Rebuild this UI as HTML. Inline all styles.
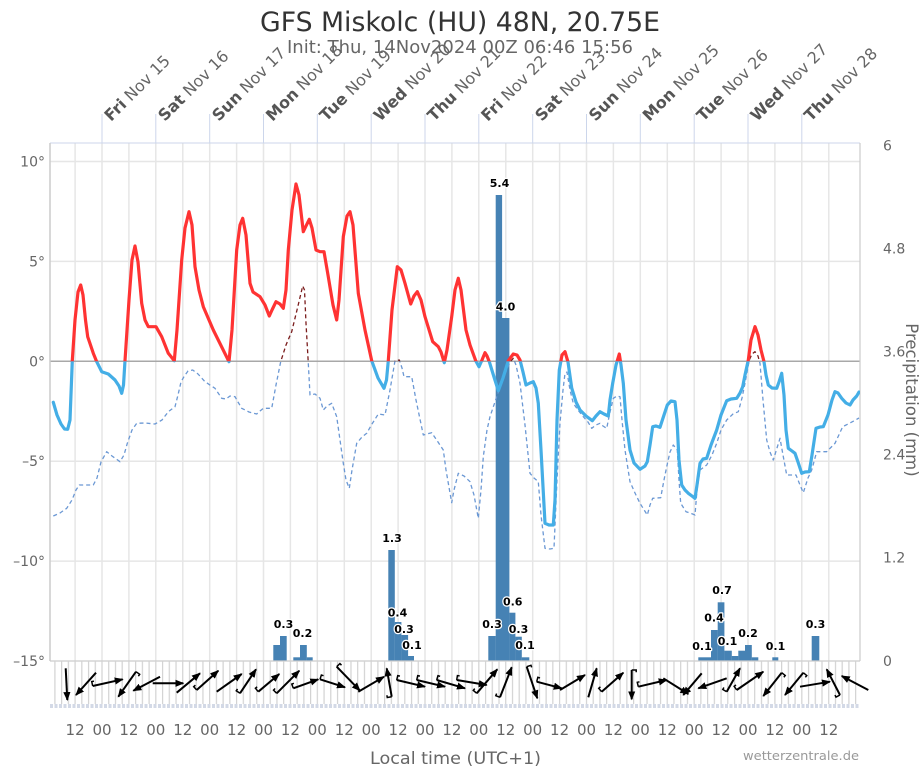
<!DOCTYPE html>
<html><head><meta charset="utf-8">
<style>
html,body{margin:0;padding:0;background:#fff;}
svg{display:block;font-family:"DejaVu Sans","Liberation Sans",sans-serif;}
</style></head>
<body>
<svg width="921" height="768" viewBox="0 0 921 768" xmlns="http://www.w3.org/2000/svg">
<defs>
<clipPath id="above"><rect x="50" y="0" width="810" height="361.3"/></clipPath>
<clipPath id="below"><rect x="50" y="361.3" width="810" height="300"/></clipPath>
<pattern id="p3h" x="54.3" y="661" width="6.729" height="44" patternUnits="userSpaceOnUse"><rect x="0" y="0" width="1.2" height="44" fill="#d2d2d2"/></pattern>
<marker id="ah" markerUnits="userSpaceOnUse" markerWidth="10" markerHeight="10" refX="8" refY="0" viewBox="0 -5 10 10" orient="auto"><path d="M0,-3.6 L9,0 L0,3.6 z" fill="#000"/></marker>
<marker id="bb" markerUnits="userSpaceOnUse" markerWidth="12" markerHeight="12" refX="0" refY="0" viewBox="-6 -8 12 16" orient="auto"><path d="M0,0 L0,-6 L3,-6" fill="none" stroke="#000" stroke-width="2"/></marker>
</defs>

<!-- Title -->
<text x="460" y="31" text-anchor="middle" font-size="26.5" fill="#333" textLength="400" lengthAdjust="spacingAndGlyphs">GFS Miskolc (HU) 48N, 20.75E</text>
<text x="460" y="53" text-anchor="middle" font-size="17.5" fill="#666" textLength="346" lengthAdjust="spacingAndGlyphs">Init: Thu, 14Nov2024 00Z 06:46 15:56</text>

<!-- horizontal grid -->
<g stroke="#e6e6e6" stroke-width="1.5">
<line x1="50" y1="161.5" x2="860" y2="161.5"/>
<line x1="50" y1="261.4" x2="860" y2="261.4"/>
<line x1="50" y1="461.2" x2="860" y2="461.2"/>
<line x1="50" y1="561.1" x2="860" y2="561.1"/>
</g>
<!-- vertical 12h grid -->
<g stroke="#e6e6e6" stroke-width="1.5">
<line x1="75.1" y1="143" x2="75.1" y2="661"/><line x1="102" y1="143" x2="102" y2="661"/><line x1="128.9" y1="143" x2="128.9" y2="661"/><line x1="155.8" y1="143" x2="155.8" y2="661"/><line x1="182.8" y1="143" x2="182.8" y2="661"/><line x1="209.7" y1="143" x2="209.7" y2="661"/><line x1="236.6" y1="143" x2="236.6" y2="661"/><line x1="263.5" y1="143" x2="263.5" y2="661"/><line x1="290.4" y1="143" x2="290.4" y2="661"/><line x1="317.3" y1="143" x2="317.3" y2="661"/><line x1="344.3" y1="143" x2="344.3" y2="661"/><line x1="371.2" y1="143" x2="371.2" y2="661"/><line x1="398.1" y1="143" x2="398.1" y2="661"/><line x1="425" y1="143" x2="425" y2="661"/><line x1="451.9" y1="143" x2="451.9" y2="661"/><line x1="478.8" y1="143" x2="478.8" y2="661"/><line x1="505.8" y1="143" x2="505.8" y2="661"/><line x1="532.7" y1="143" x2="532.7" y2="661"/><line x1="559.6" y1="143" x2="559.6" y2="661"/><line x1="586.5" y1="143" x2="586.5" y2="661"/><line x1="613.4" y1="143" x2="613.4" y2="661"/><line x1="640.3" y1="143" x2="640.3" y2="661"/><line x1="667.3" y1="143" x2="667.3" y2="661"/><line x1="694.2" y1="143" x2="694.2" y2="661"/><line x1="721.1" y1="143" x2="721.1" y2="661"/><line x1="748" y1="143" x2="748" y2="661"/><line x1="774.9" y1="143" x2="774.9" y2="661"/><line x1="801.8" y1="143" x2="801.8" y2="661"/><line x1="828.8" y1="143" x2="828.8" y2="661"/>
</g>
<!-- zero line -->
<line x1="50" y1="361.3" x2="860" y2="361.3" stroke="#a8a8a8" stroke-width="1.5"/>

<!-- plot borders -->
<line x1="50" y1="143" x2="860" y2="143" stroke="#ccd6eb" stroke-width="1"/>
<line x1="50" y1="143" x2="50" y2="661" stroke="#cccccc" stroke-width="1.5"/>
<line x1="860" y1="143" x2="860" y2="661" stroke="#cccccc" stroke-width="1.2"/>

<!-- day ticks -->
<g stroke="#ccd6eb" stroke-width="1">
<line x1="102" y1="114" x2="102" y2="143"/><line x1="155.8" y1="114" x2="155.8" y2="143"/><line x1="209.7" y1="114" x2="209.7" y2="143"/><line x1="263.5" y1="114" x2="263.5" y2="143"/><line x1="317.3" y1="114" x2="317.3" y2="143"/><line x1="371.2" y1="114" x2="371.2" y2="143"/><line x1="425" y1="114" x2="425" y2="143"/><line x1="478.8" y1="114" x2="478.8" y2="143"/><line x1="532.7" y1="114" x2="532.7" y2="143"/><line x1="586.5" y1="114" x2="586.5" y2="143"/><line x1="640.3" y1="114" x2="640.3" y2="143"/><line x1="694.2" y1="114" x2="694.2" y2="143"/><line x1="748" y1="114" x2="748" y2="143"/><line x1="801.8" y1="114" x2="801.8" y2="143"/>
</g>
<!-- day labels -->
<g font-size="16" fill="#666">
<text transform="translate(111,122) rotate(-45)"><tspan font-weight="bold" fill="#555">Fri</tspan> Nov 15</text>
<text transform="translate(164.8,122) rotate(-45)"><tspan font-weight="bold" fill="#555">Sat</tspan> Nov 16</text>
<text transform="translate(218.7,122) rotate(-45)"><tspan font-weight="bold" fill="#555">Sun</tspan> Nov 17</text>
<text transform="translate(272.5,122) rotate(-45)"><tspan font-weight="bold" fill="#555">Mon</tspan> Nov 18</text>
<text transform="translate(326.3,122) rotate(-45)"><tspan font-weight="bold" fill="#555">Tue</tspan> Nov 19</text>
<text transform="translate(380.2,122) rotate(-45)"><tspan font-weight="bold" fill="#555">Wed</tspan> Nov 20</text>
<text transform="translate(434,122) rotate(-45)"><tspan font-weight="bold" fill="#555">Thu</tspan> Nov 21</text>
<text transform="translate(487.8,122) rotate(-45)"><tspan font-weight="bold" fill="#555">Fri</tspan> Nov 22</text>
<text transform="translate(541.7,122) rotate(-45)"><tspan font-weight="bold" fill="#555">Sat</tspan> Nov 23</text>
<text transform="translate(595.5,122) rotate(-45)"><tspan font-weight="bold" fill="#555">Sun</tspan> Nov 24</text>
<text transform="translate(649.3,122) rotate(-45)"><tspan font-weight="bold" fill="#555">Mon</tspan> Nov 25</text>
<text transform="translate(703.2,122) rotate(-45)"><tspan font-weight="bold" fill="#555">Tue</tspan> Nov 26</text>
<text transform="translate(757,122) rotate(-45)"><tspan font-weight="bold" fill="#555">Wed</tspan> Nov 27</text>
<text transform="translate(810.8,122) rotate(-45)"><tspan font-weight="bold" fill="#555">Thu</tspan> Nov 28</text>
</g>

<!-- left axis labels -->
<g font-size="14" fill="#666" text-anchor="end">
<text x="45" y="166.5">10°</text>
<text x="45" y="266.4">5°</text>
<text x="45" y="366.3">0°</text>
<text x="45" y="466.2">–5°</text>
<text x="45" y="566.1">–10°</text>
<text x="45" y="666">–15°</text>
</g>
<!-- right axis labels -->
<g font-size="14" fill="#666">
<text x="883" y="150.5">6</text>
<text x="883" y="253.5">4.8</text>
<text x="883" y="356.5">3.6</text>
<text x="883" y="459.5">2.4</text>
<text x="883" y="562.5">1.2</text>
<text x="883" y="666">0</text>
</g>
<text transform="translate(906,400) rotate(90)" text-anchor="middle" font-size="16.5" fill="#666">Precipitation (mm)</text>

<!-- precipitation bars -->
<g fill="#4682b4">
<rect x="273.3" y="645" width="6.8" height="16"/>
<rect x="280" y="636" width="6.7" height="25"/>
<rect x="293.3" y="657.3" width="6.8" height="3.7"/>
<rect x="300" y="645" width="6.8" height="16"/>
<rect x="306.7" y="657.3" width="6" height="3.7"/>
<rect x="388.3" y="550" width="6.5" height="111"/>
<rect x="394.7" y="622" width="6.7" height="39"/>
<rect x="401.3" y="635" width="6.8" height="26"/>
<rect x="408" y="656" width="6" height="5"/>
<rect x="488.3" y="636" width="7.5" height="25"/>
<rect x="495.7" y="195" width="6.4" height="466"/>
<rect x="502" y="318" width="7.4" height="343"/>
<rect x="509.3" y="612.7" width="6.1" height="48.3"/>
<rect x="515.3" y="636.7" width="6.5" height="24.3"/>
<rect x="521.7" y="657.3" width="7.6" height="3.7"/>
<rect x="698.3" y="657.3" width="12.8" height="3.7"/>
<rect x="711" y="630" width="6.8" height="31"/>
<rect x="717.7" y="602.3" width="6.7" height="58.7"/>
<rect x="724.3" y="650.7" width="7.5" height="10.3"/>
<rect x="731.7" y="656" width="6.7" height="5"/>
<rect x="738.3" y="650.7" width="6.8" height="10.3"/>
<rect x="745" y="645" width="6.8" height="16"/>
<rect x="751.7" y="657.3" width="6.6" height="3.7"/>
<rect x="772.3" y="657.3" width="6" height="3.7"/>
<rect x="811.7" y="636" width="7.6" height="25"/>
</g>

<!-- dashed dewpoint line -->
<g fill="none" stroke-width="1.3" stroke-dasharray="4,3" stroke-linejoin="round">
<polyline id="dew" clip-path="url(#below)" stroke="#6b98d4" points="53.3,516 60,513 66.7,508.3 72,500 76,490 79.3,485 86,485 93.3,485 97,478 101,462 106.7,451.7 112,456 120,461.7 124,455 127.3,443.3 132,430 136.7,423.3 145,423 155,424 162,420 168.3,411.7 175,406.7 178,395 181,382 184,376.7 188,371 192.7,370 198,374 205,381.7 215,388.3 221.7,398.3 226,399 230,396 235,396.7 238,402 241.7,408.3 249,412 256.7,414 260,411 263.3,408.3 271.7,408.3 276,385 280.7,361.7 286,345 291.7,331.7 297,310 302.7,286 304.5,290 306,323.3 308.3,363.3 310,395 315,394 320,398.3 323.3,410 327,406 331.7,403.3 336.7,416.7 340,440 343.3,463.3 346,480 349.3,488.3 352,470 356.7,443.3 362,437 366.7,433.3 372,424 378.3,414 385,415 387,405 390,390 395,360.7 399.3,360 402,368 404,376.7 411.7,376.7 416,400 423.3,435 431.7,432.7 438,442 443.3,450 446,470 451.7,502.7 454,490 458.3,473.3 464,476 470,481.7 474,495 478.3,518.3 481,490 483.3,456.7 487,430 490,416.7 497.3,395 502,382 506.7,370 510,362 513.3,358.3 516,365 520,383.3 525,425 530,473.3 534,478 538.3,481.7 541,515 545,548.3 550,549 554,548.3 557,480 560,423 563,390 565,373.3 567,372 570,390 573.3,403.3 578,410 583.3,416.7 588,422 591.7,428.3 596,425 600,423.3 603,426 606.7,428.3 610,412 613.3,398.3 617,396 620,396.7 622,420 625,450 630,481.7 635,493 640,503.3 647.3,515 650,505 652.7,498.3 660.7,497.7 664,480 666.7,466.7 670,452 673.3,445 677.3,450 679,480 680.7,503.3 686,511.7 690,513 695,515 697,490 700,470 706.7,465 712,455 716.7,443.3 721,430 726.7,420 733,414 738.3,411.7 742,398 745,383.3 749.3,360 752,354 755,351.7 758,356 760,363.3 763,400 766.7,440 770,452 773.3,460 777,448 780,438.3 783,455 786.7,475 796,475 800,485 803.3,492.7 808,478 811.7,470 816.7,451.7 826.7,451.7 835,443.3 842.7,426.7 850,423 856.7,419.3 859,418"/>
<polyline clip-path="url(#above)" stroke="#7a1c1c" points="53.3,516 60,513 66.7,508.3 72,500 76,490 79.3,485 86,485 93.3,485 97,478 101,462 106.7,451.7 112,456 120,461.7 124,455 127.3,443.3 132,430 136.7,423.3 145,423 155,424 162,420 168.3,411.7 175,406.7 178,395 181,382 184,376.7 188,371 192.7,370 198,374 205,381.7 215,388.3 221.7,398.3 226,399 230,396 235,396.7 238,402 241.7,408.3 249,412 256.7,414 260,411 263.3,408.3 271.7,408.3 276,385 280.7,361.7 286,345 291.7,331.7 297,310 302.7,286 304.5,290 306,323.3 308.3,363.3 310,395 315,394 320,398.3 323.3,410 327,406 331.7,403.3 336.7,416.7 340,440 343.3,463.3 346,480 349.3,488.3 352,470 356.7,443.3 362,437 366.7,433.3 372,424 378.3,414 385,415 387,405 390,390 395,360.7 399.3,360 402,368 404,376.7 411.7,376.7 416,400 423.3,435 431.7,432.7 438,442 443.3,450 446,470 451.7,502.7 454,490 458.3,473.3 464,476 470,481.7 474,495 478.3,518.3 481,490 483.3,456.7 487,430 490,416.7 497.3,395 502,382 506.7,370 510,362 513.3,358.3 516,365 520,383.3 525,425 530,473.3 534,478 538.3,481.7 541,515 545,548.3 550,549 554,548.3 557,480 560,423 563,390 565,373.3 567,372 570,390 573.3,403.3 578,410 583.3,416.7 588,422 591.7,428.3 596,425 600,423.3 603,426 606.7,428.3 610,412 613.3,398.3 617,396 620,396.7 622,420 625,450 630,481.7 635,493 640,503.3 647.3,515 650,505 652.7,498.3 660.7,497.7 664,480 666.7,466.7 670,452 673.3,445 677.3,450 679,480 680.7,503.3 686,511.7 690,513 695,515 697,490 700,470 706.7,465 712,455 716.7,443.3 721,430 726.7,420 733,414 738.3,411.7 742,398 745,383.3 749.3,360 752,354 755,351.7 758,356 760,363.3 763,400 766.7,440 770,452 773.3,460 777,448 780,438.3 783,455 786.7,475 796,475 800,485 803.3,492.7 808,478 811.7,470 816.7,451.7 826.7,451.7 835,443.3 842.7,426.7 850,423 856.7,419.3 859,418"/>
</g>

<!-- temperature line -->
<g fill="none" stroke-width="3.2" stroke-linejoin="round" stroke-linecap="round">
<polyline clip-path="url(#below)" stroke="#44aee6" points="53.3,402.3 57,415 61,424 64.5,429 67.7,429.3 70,420 72.3,360.7 75,320 78,292 80.7,285 83,295 85.5,320 87.7,336.7 93.3,353.3 96.7,361.7 101.7,371.7 108.3,374 115,380 119,386 121.7,393.3 123.5,385 125,360.7 129,300 132,260 135,246 138,262 141.7,303.3 145,320 148.3,326.7 156,326.7 161.7,336.7 168.3,353.3 174.3,360.7 177,330 181.7,260 185,228 189,211.7 192,225 195,266.7 199,290 203.3,306.7 213.3,330 229,361.7 232,330 236.7,250 240,225 242.7,218.3 246,235 250,283.3 253,292 260,296.7 265,305 269.3,316 272,310 276,301.7 280,304 283.3,308.3 286,290 288.3,250 292,210 296,184 299,195 303.3,231.7 306,226 309.3,219.3 312,228 316,250 320,251.7 324,251.7 328,275 333,305 336.7,320 339,300 343.3,236.7 347,216 350,211.7 353,225 358.3,293.3 365,330 371.7,360.7 378,378 384,388.3 386.5,380 388.3,360.7 392,310 397.3,266.7 401,270 405,283.3 410.7,304 414,296 417.3,291.7 421,300 425,316.7 432.7,341.7 438.3,346.7 441,352 444.3,362.7 447,350 451.7,316.7 455,290 458.3,278.3 461,290 466,330 470,345 475.7,360.7 479,366.7 482,360 485,352.7 487,356 489.3,361.7 494,377 498.3,390.7 503,378 508.3,360.7 513.3,354 517,355 520,360 523,372 526,385 530,383 533.3,381.7 536,388 538.3,403.3 541,450 545,523.3 549,525 553.3,525 555,500 557,420 559.3,370 562,355 565,351.7 568,362 571.7,388 576,402 580,410 586,416 592.3,420.7 596,416 600,411.7 604,414 608.3,416 610,400 612.7,383.3 616,365 619.3,354 621,365 623.3,383.3 626,420 630,450 634,463 640,469.3 645,466 647.3,461.7 650,445 652.7,426.7 656,426 660,427.3 664,415 667.3,405 671,401 675,401.7 677,420 679,460 681.7,485 685,490 688.3,493.3 692,496 695,498.3 697,485 700,463.3 703,459 706.7,458.3 711,445 716.7,430 721,415 726.7,400.7 731,399 736.7,398.3 740,393 742.7,386.7 745,375 748.3,360 751,340 755,326.7 758,335 761,350 764,361.7 766,375 768.3,385 772,388 776.7,388.3 779,382 781.7,373.3 784,395 786,430 788.3,448.3 792,451 795,453.3 798,462 801.7,473.3 805,472 809.3,471.7 812,455 816,428.3 820,427 823.3,426.7 828,415 832,400 835,391.7 838,393 841.7,398.3 846,403 850,405 853,400 856.7,396 859,392"/>
<polyline clip-path="url(#above)" stroke="#ff3333" points="53.3,402.3 57,415 61,424 64.5,429 67.7,429.3 70,420 72.3,360.7 75,320 78,292 80.7,285 83,295 85.5,320 87.7,336.7 93.3,353.3 96.7,361.7 101.7,371.7 108.3,374 115,380 119,386 121.7,393.3 123.5,385 125,360.7 129,300 132,260 135,246 138,262 141.7,303.3 145,320 148.3,326.7 156,326.7 161.7,336.7 168.3,353.3 174.3,360.7 177,330 181.7,260 185,228 189,211.7 192,225 195,266.7 199,290 203.3,306.7 213.3,330 229,361.7 232,330 236.7,250 240,225 242.7,218.3 246,235 250,283.3 253,292 260,296.7 265,305 269.3,316 272,310 276,301.7 280,304 283.3,308.3 286,290 288.3,250 292,210 296,184 299,195 303.3,231.7 306,226 309.3,219.3 312,228 316,250 320,251.7 324,251.7 328,275 333,305 336.7,320 339,300 343.3,236.7 347,216 350,211.7 353,225 358.3,293.3 365,330 371.7,360.7 378,378 384,388.3 386.5,380 388.3,360.7 392,310 397.3,266.7 401,270 405,283.3 410.7,304 414,296 417.3,291.7 421,300 425,316.7 432.7,341.7 438.3,346.7 441,352 444.3,362.7 447,350 451.7,316.7 455,290 458.3,278.3 461,290 466,330 470,345 475.7,360.7 479,366.7 482,360 485,352.7 487,356 489.3,361.7 494,377 498.3,390.7 503,378 508.3,360.7 513.3,354 517,355 520,360 523,372 526,385 530,383 533.3,381.7 536,388 538.3,403.3 541,450 545,523.3 549,525 553.3,525 555,500 557,420 559.3,370 562,355 565,351.7 568,362 571.7,388 576,402 580,410 586,416 592.3,420.7 596,416 600,411.7 604,414 608.3,416 610,400 612.7,383.3 616,365 619.3,354 621,365 623.3,383.3 626,420 630,450 634,463 640,469.3 645,466 647.3,461.7 650,445 652.7,426.7 656,426 660,427.3 664,415 667.3,405 671,401 675,401.7 677,420 679,460 681.7,485 685,490 688.3,493.3 692,496 695,498.3 697,485 700,463.3 703,459 706.7,458.3 711,445 716.7,430 721,415 726.7,400.7 731,399 736.7,398.3 740,393 742.7,386.7 745,375 748.3,360 751,340 755,326.7 758,335 761,350 764,361.7 766,375 768.3,385 772,388 776.7,388.3 779,382 781.7,373.3 784,395 786,430 788.3,448.3 792,451 795,453.3 798,462 801.7,473.3 805,472 809.3,471.7 812,455 816,428.3 820,427 823.3,426.7 828,415 832,400 835,391.7 838,393 841.7,398.3 846,403 850,405 853,400 856.7,396 859,392"/>
</g>

<!-- bar labels -->
<g font-size="11" font-weight="bold" fill="#000" stroke="#fff" stroke-width="2.5" paint-order="stroke" text-anchor="middle" stroke-linejoin="round">
<text x="283.5" y="628">0.3</text>
<text x="302.5" y="637">0.2</text>
<text x="392" y="542">1.3</text>
<text x="397.5" y="616.5">0.4</text>
<text x="404" y="633">0.3</text>
<text x="412" y="649">0.1</text>
<text x="499.5" y="187">5.4</text>
<text x="505.5" y="310.5">4.0</text>
<text x="492" y="628">0.3</text>
<text x="512.7" y="605.5">0.6</text>
<text x="518.5" y="633">0.3</text>
<text x="525" y="649">0.1</text>
<text x="722" y="594">0.7</text>
<text x="714" y="621.5">0.4</text>
<text x="702" y="650">0.1</text>
<text x="727.5" y="645">0.1</text>
<text x="748" y="637">0.2</text>
<text x="775.5" y="650">0.1</text>
<text x="815.5" y="628">0.3</text>
</g>

<!-- wind strip -->
<line x1="50" y1="661" x2="860" y2="661" stroke="#cccccc" stroke-width="1.2"/>
<rect x="50" y="661" width="810" height="43" fill="url(#p3h)"/>
<line x1="50" y1="706" x2="860" y2="706" stroke="#d3d9e6" stroke-width="4" stroke-dasharray="3,1.5"/>

<g stroke="#000" stroke-width="2" fill="none" marker-end="url(#ah)">
<line x1="65.7" y1="668.3" x2="67.3" y2="700"/>
<line x1="96" y1="672.7" x2="76" y2="695"/>
<line x1="92.7" y1="686" x2="122.7" y2="679.3" marker-start="url(#bb)"/>
<line x1="136" y1="671.7" x2="118.3" y2="696.7" marker-start="url(#bb)"/>
<line x1="160" y1="676.7" x2="133.3" y2="690.7"/>
<line x1="152.7" y1="683.3" x2="183.3" y2="683.3"/>
<line x1="176.7" y1="692.7" x2="200" y2="673.3"/>
<line x1="196.7" y1="690" x2="218.3" y2="670.7" marker-start="url(#bb)"/>
<line x1="216.7" y1="691.7" x2="241.7" y2="674"/>
<line x1="240" y1="693.3" x2="256" y2="669.3" marker-start="url(#bb)"/>
<line x1="258.3" y1="691.7" x2="279.3" y2="674" marker-start="url(#bb)"/>
<line x1="276.7" y1="693.3" x2="299.3" y2="670.7" marker-start="url(#bb)"/>
<line x1="293.3" y1="688.3" x2="318.3" y2="679.3" marker-start="url(#bb)"/>
<line x1="320" y1="679.3" x2="345" y2="687.3" marker-start="url(#bb)"/>
<line x1="336.7" y1="666.7" x2="360" y2="690.7" marker-start="url(#bb)"/>
<line x1="358.3" y1="691.7" x2="384" y2="676.7"/>
<line x1="391.7" y1="696.7" x2="386.7" y2="668.3" marker-start="url(#bb)"/>
<line x1="396.7" y1="680" x2="425" y2="686.7" marker-start="url(#bb)"/>
<line x1="416.7" y1="680" x2="445" y2="686.7" marker-start="url(#bb)"/>
<line x1="436.7" y1="680" x2="465" y2="688.3" marker-start="url(#bb)"/>
<line x1="456.7" y1="680" x2="486.7" y2="685" marker-start="url(#bb)"/>
<line x1="476.7" y1="693.3" x2="497.3" y2="669.3" marker-start="url(#bb)"/>
<line x1="500" y1="697.3" x2="511.7" y2="667.3" marker-start="url(#bb)"/>
<line x1="526.7" y1="666.7" x2="537.3" y2="698.3" marker-start="url(#bb)"/>
<line x1="536.7" y1="681.7" x2="561.7" y2="688.3" marker-start="url(#bb)"/>
<line x1="560" y1="690" x2="585" y2="675"/>
<line x1="588.3" y1="697.3" x2="596.7" y2="668.3"/>
<line x1="601.7" y1="691.7" x2="623.3" y2="672.7" marker-start="url(#bb)"/>
<line x1="631.7" y1="670" x2="631.7" y2="699.3" marker-start="url(#bb)"/>
<line x1="638.3" y1="686.7" x2="666.7" y2="680" marker-start="url(#bb)"/>
<line x1="663.3" y1="678.3" x2="688.3" y2="694"/>
<line x1="701.7" y1="673.3" x2="683.3" y2="695"/>
<line x1="726.7" y1="678.3" x2="698.3" y2="688.3"/>
<line x1="726.7" y1="691.7" x2="740" y2="668.3" marker-start="url(#bb)"/>
<line x1="736.7" y1="690" x2="763.3" y2="671.7" marker-start="url(#bb)"/>
<line x1="781.7" y1="672.7" x2="763.3" y2="696" marker-start="url(#bb)"/>
<line x1="803.3" y1="672.7" x2="785" y2="695" marker-start="url(#bb)"/>
<line x1="800" y1="686.7" x2="830" y2="681.7"/>
<line x1="840" y1="695" x2="826.7" y2="669.3" marker-start="url(#bb)"/>
<line x1="868.3" y1="690" x2="841.7" y2="676"/>
</g>

<!-- bottom axis labels -->
<g font-size="15" fill="#666" text-anchor="middle">
<text x="75.1" y="735">12</text><text x="102" y="735">00</text><text x="128.9" y="735">12</text><text x="155.8" y="735">00</text><text x="182.8" y="735">12</text><text x="209.7" y="735">00</text><text x="236.6" y="735">12</text><text x="263.5" y="735">00</text><text x="290.4" y="735">12</text><text x="317.3" y="735">00</text><text x="344.3" y="735">12</text><text x="371.2" y="735">00</text><text x="398.1" y="735">12</text><text x="425" y="735">00</text><text x="451.9" y="735">12</text><text x="478.8" y="735">00</text><text x="505.8" y="735">12</text><text x="532.7" y="735">00</text><text x="559.6" y="735">12</text><text x="586.5" y="735">00</text><text x="613.4" y="735">12</text><text x="640.3" y="735">00</text><text x="667.3" y="735">12</text><text x="694.2" y="735">00</text><text x="721.1" y="735">12</text><text x="748" y="735">00</text><text x="774.9" y="735">12</text><text x="801.8" y="735">00</text><text x="828.8" y="735">12</text>
</g>
<text x="455.5" y="764" text-anchor="middle" font-size="17" fill="#666" textLength="171" lengthAdjust="spacingAndGlyphs">Local time (UTC+1)</text>
<text x="859" y="760" text-anchor="end" font-size="12.5" fill="#999" textLength="116" lengthAdjust="spacingAndGlyphs">wetterzentrale.de</text>
</svg>
</body></html>
